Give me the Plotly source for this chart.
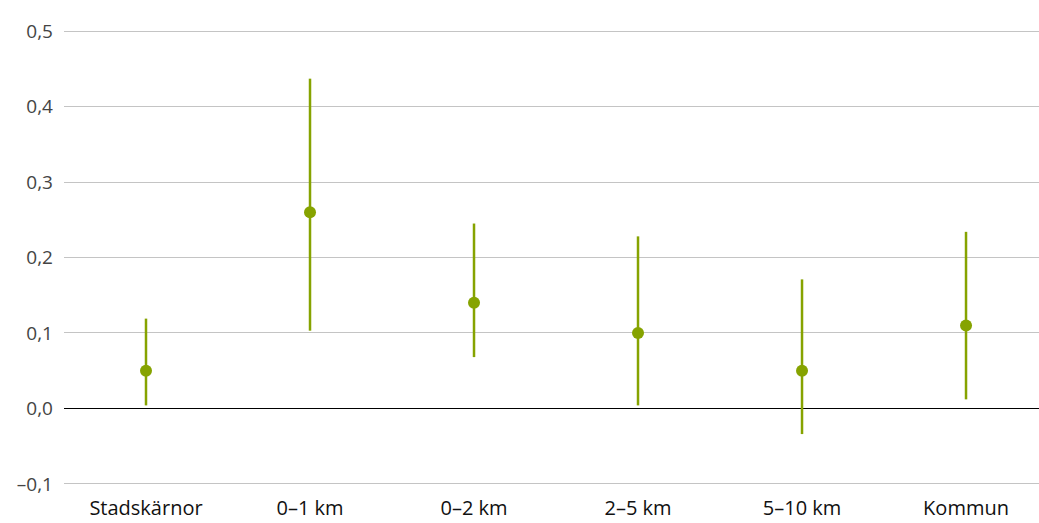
import plotly.graph_objects as go

categories = ["Stadskärnor", "0–1 km", "0–2 km", "2–5 km", "5–10 km", "Kommun"]
estimates = [0.05, 0.26, 0.14, 0.10, 0.05, 0.11]
upper = [0.119, 0.437, 0.245, 0.228, 0.171, 0.234]
lower = [0.004, 0.103, 0.068, 0.004, -0.034, 0.012]

y_ticks = [-0.1, 0.0, 0.1, 0.2, 0.3, 0.4, 0.5]
y_ticktext = ["–0,1", "0,0", "0,1", "0,2", "0,3", "0,4", "0,5"]

green = "#86a300"

fig = go.Figure()
fig.add_trace(go.Scatter(
    x=list(range(len(categories))),
    y=estimates,
    mode="markers",
    marker=dict(color=green, size=12),
    error_y=dict(
        type="data",
        symmetric=False,
        array=[u - e for u, e in zip(upper, estimates)],
        arrayminus=[e - l for e, l in zip(estimates, lower)],
        color=green,
        thickness=2.5,
        width=0,
    ),
    showlegend=False,
    cliponaxis=False,
))

fig.update_layout(
    width=1039, height=523,
    margin=dict(l=64, r=0, t=30, b=38, pad=0),
    paper_bgcolor="white", plot_bgcolor="white",
    font=dict(family="Open Sans, sans-serif", size=20, color="#1a1a1a"),
    xaxis=dict(
        tickmode="array",
        tickvals=list(range(len(categories))),
        ticktext=categories,
        range=[-0.5, 5.445],
        showgrid=False, zeroline=False, showline=False,
        ticks="", tickfont=dict(size=20, color="#111111"),
        automargin=False, ticklabelstandoff=9,
    ),
    yaxis=dict(
        range=[-0.1015, 0.5015],
        tickmode="array", tickvals=y_ticks, ticktext=y_ticktext,
        showgrid=True, gridcolor="#c4c4c4", gridwidth=1,
        zeroline=True, zerolinecolor="#000000", zerolinewidth=1.3,
        showline=False, ticks="", ticklabelstandoff=10,
        tickfont=dict(size=19, color="#444444"),
        automargin=False,
    ),
)

fig.write_html(
    "out.html",
    config={"displayModeBar": False},
    post_script="document.body.style.margin='0';document.body.style.padding='0';",
)
